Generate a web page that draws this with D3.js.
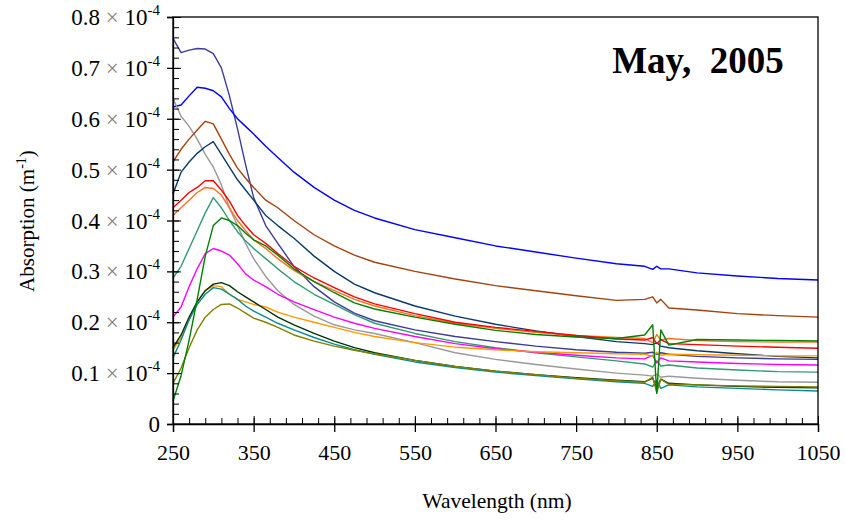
<!DOCTYPE html>
<html>
<head>
<meta charset="utf-8">
<script src="https://cdn.jsdelivr.net/npm/d3@7"></script>
<style>
  html, body { margin: 0; padding: 0; background: #fff; }
  svg { display: block; }
  text { font-family: "Liberation Serif", "Times New Roman", serif; fill: #000; }
</style>
</head>
<body>
<svg id="chart" width="846" height="522"></svg>
<script>
// Wavelength grid (nm) shared by all spectra
const wavelengths = [250,260,270,280,290,300,310,320,330,340,350,365,380,400,425,450,475,500,550,600,650,700,750,800,835,845,850,855,865,900,950,1000,1050];

// Absorption spectra, values in units of 1e-4 m^-1
const slateSeries  = [0.758,0.73,0.735,0.738,0.737,0.728,0.70,0.645,0.58,0.51,0.445,0.39,0.355,0.31,0.27,0.24,0.218,0.203,0.185,0.172,0.162,0.153,0.146,0.141,0.139,0.141,0.137,0.14,0.137,0.133,0.13,0.128,0.127];
const blueSeries   = [0.623,0.627,0.645,0.662,0.66,0.655,0.643,0.62,0.60,0.585,0.57,0.546,0.524,0.495,0.465,0.44,0.42,0.405,0.382,0.366,0.35,0.338,0.326,0.315,0.31,0.304,0.31,0.305,0.305,0.297,0.291,0.286,0.283];
const graySeries   = [0.64,0.605,0.585,0.56,0.53,0.505,0.47,0.425,0.39,0.355,0.325,0.29,0.262,0.235,0.212,0.195,0.185,0.178,0.16,0.14,0.127,0.117,0.108,0.10,0.096,0.094,0.098,0.092,0.094,0.09,0.086,0.083,0.082];
const brownSeries  = [0.515,0.54,0.56,0.578,0.595,0.59,0.56,0.53,0.503,0.483,0.465,0.44,0.425,0.40,0.372,0.35,0.332,0.318,0.30,0.285,0.272,0.262,0.252,0.243,0.245,0.25,0.238,0.245,0.228,0.224,0.217,0.213,0.21];
const navySeries   = [0.452,0.495,0.515,0.532,0.545,0.555,0.53,0.505,0.48,0.46,0.44,0.41,0.39,0.365,0.33,0.30,0.275,0.258,0.232,0.212,0.196,0.183,0.172,0.162,0.158,0.156,0.16,0.153,0.15,0.144,0.138,0.133,0.13];
const redSeries    = [0.425,0.44,0.455,0.465,0.478,0.478,0.46,0.438,0.41,0.39,0.372,0.355,0.335,0.31,0.287,0.268,0.25,0.236,0.217,0.20,0.19,0.182,0.174,0.167,0.165,0.17,0.158,0.166,0.158,0.156,0.153,0.151,0.149];
const darkOrangeSeries = [0.41,0.425,0.44,0.455,0.465,0.463,0.45,0.425,0.40,0.38,0.362,0.345,0.325,0.302,0.28,0.262,0.245,0.232,0.213,0.198,0.188,0.18,0.174,0.17,0.168,0.16,0.176,0.165,0.168,0.164,0.162,0.161,0.161];
const seaGreenSeries = [0.287,0.31,0.345,0.38,0.415,0.445,0.425,0.40,0.378,0.36,0.345,0.325,0.305,0.28,0.255,0.235,0.215,0.198,0.178,0.162,0.15,0.14,0.132,0.124,0.118,0.112,0.124,0.114,0.116,0.11,0.106,0.103,0.102];
const greenSeries  = [0.045,0.095,0.165,0.245,0.33,0.39,0.405,0.40,0.39,0.375,0.362,0.35,0.332,0.305,0.28,0.258,0.238,0.226,0.21,0.196,0.184,0.176,0.171,0.168,0.175,0.195,0.06,0.185,0.155,0.166,0.165,0.164,0.163];
const magentaSeries = [0.21,0.23,0.27,0.305,0.335,0.345,0.34,0.332,0.315,0.295,0.283,0.27,0.255,0.24,0.225,0.21,0.198,0.188,0.172,0.158,0.148,0.141,0.135,0.13,0.128,0.135,0.12,0.13,0.124,0.122,0.119,0.117,0.116];
const orangeSeries = [0.145,0.17,0.205,0.24,0.262,0.272,0.27,0.255,0.245,0.24,0.235,0.23,0.22,0.21,0.20,0.19,0.18,0.172,0.16,0.151,0.146,0.142,0.14,0.138,0.137,0.133,0.141,0.135,0.137,0.136,0.135,0.134,0.134];
const darkGreenSeries = [0.15,0.175,0.21,0.24,0.262,0.275,0.278,0.272,0.26,0.25,0.24,0.225,0.21,0.195,0.178,0.163,0.15,0.14,0.125,0.113,0.104,0.097,0.091,0.086,0.083,0.09,0.07,0.088,0.08,0.077,0.074,0.072,0.071];
const tealSeries   = [0.13,0.165,0.205,0.235,0.255,0.268,0.265,0.255,0.245,0.232,0.222,0.21,0.198,0.185,0.17,0.157,0.146,0.137,0.122,0.111,0.102,0.095,0.089,0.083,0.08,0.074,0.086,0.07,0.077,0.073,0.07,0.067,0.065];
const oliveSeries  = [0.08,0.11,0.15,0.185,0.21,0.225,0.235,0.236,0.228,0.218,0.208,0.20,0.19,0.175,0.163,0.153,0.145,0.138,0.125,0.113,0.104,0.097,0.09,0.085,0.082,0.092,0.062,0.088,0.078,0.077,0.075,0.074,0.073];

const seriesList = [
  { values: slateSeries,      color: "#3c3c9a" },
  { values: blueSeries,       color: "#0000ff" },
  { values: graySeries,       color: "#999999" },
  { values: brownSeries,      color: "#a3420f" },
  { values: navySeries,       color: "#0a3a66" },
  { values: seaGreenSeries,   color: "#339970" },
  { values: magentaSeries,    color: "#ff00ff" },
  { values: orangeSeries,     color: "#ff9900" },
  { values: darkGreenSeries,  color: "#003300" },
  { values: tealSeries,       color: "#0a8a8f" },
  { values: oliveSeries,      color: "#808000" },
  { values: darkOrangeSeries, color: "#ff7020" },
  { values: redSeries,        color: "#ff0000" },
  { values: greenSeries,      color: "#008000" }
];

// Axis ticks
const xTicks = [250,350,450,550,650,750,850,950,1050];
const yTicks = [0,0.1,0.2,0.3,0.4,0.5,0.6,0.7,0.8];

const plot = { left: 173, right: 818, top: 17, bottom: 424 };
const svg = d3.select("#chart");

const x = d3.scaleLinear().domain([250, 1050]).range([plot.left, plot.right]);
const y = d3.scaleLinear().domain([0, 0.8]).range([plot.bottom, plot.top]);

// Spectra
const line = d3.line().x((d, i) => x(wavelengths[i])).y(d => y(d));
svg.append("g")
  .selectAll("path")
  .data(seriesList)
  .join("path")
  .attr("d", s => line(s.values))
  .attr("fill", "none")
  .attr("stroke", s => s.color)
  .attr("stroke-width", 1.4)
  .attr("stroke-linejoin", "round");

// Frame
svg.append("rect")
  .attr("x", plot.left).attr("y", plot.top)
  .attr("width", plot.right - plot.left).attr("height", plot.bottom - plot.top)
  .attr("fill", "none").attr("stroke", "#000").attr("stroke-width", 1.3);

// X axis: minor ticks inward, major ticks crossing the axis
const xMinor = d3.range(250, 1051, 20);
svg.append("g").attr("transform", `translate(0,${plot.bottom})`)
  .call(d3.axisBottom(x).tickValues(xMinor).tickSize(-6).tickFormat(""))
  .call(g => g.select(".domain").remove());
svg.append("g").attr("transform", `translate(0,${plot.bottom})`)
  .call(d3.axisBottom(x).tickValues(xTicks).tickSize(-8).tickFormat(""))
  .call(g => g.select(".domain").remove());
const xAxis = svg.append("g").attr("transform", `translate(0,${plot.bottom})`)
  .call(d3.axisBottom(x).tickValues(xTicks).tickSize(8).tickPadding(12).tickFormat(d3.format("d")))
  .call(g => g.select(".domain").attr("stroke-width", 1.3));
xAxis.selectAll("line").attr("stroke-width", 1.3);
xAxis.selectAll("text")
  .attr("font-family", "Liberation Serif, serif")
  .attr("font-size", 22)
  .attr("fill", "#000");

// Y axis
const yMinor = d3.range(0, 0.801, 0.02);
svg.append("g").attr("transform", `translate(${plot.left},0)`)
  .call(d3.axisLeft(y).tickValues(yMinor).tickSize(-6).tickFormat(""))
  .call(g => g.select(".domain").remove());
svg.append("g").attr("transform", `translate(${plot.left},0)`)
  .call(d3.axisLeft(y).tickValues(yTicks).tickSize(-8).tickFormat(""))
  .call(g => g.select(".domain").remove());
const yAxis = svg.append("g").attr("transform", `translate(${plot.left},0)`)
  .call(d3.axisLeft(y).tickValues(yTicks).tickSize(6).tickFormat(""))
  .call(g => g.select(".domain").attr("stroke-width", 1.3));
yAxis.selectAll("line").attr("stroke-width", 1.3);

// Y tick labels in the form "0.N × 10^-4"
const yLabels = svg.append("g");
yTicks.forEach(v => {
  const t = yLabels.append("text")
    .attr("x", 160)
    .attr("y", y(v))
    .attr("dy", "0.35em")
    .attr("text-anchor", "end")
    .attr("font-size", 23);
  if (v === 0) {
    t.text("0");
  } else {
    t.append("tspan").text(d3.format(".1f")(v) + " ");
    t.append("tspan").attr("fill", "#808080").text("×");
    t.append("tspan").text(" 10");
    t.append("tspan").attr("font-size", 15).attr("dy", -10).text("-4");
  }
});

// Axis titles
svg.append("text")
  .attr("x", 497).attr("y", 500)
  .attr("dy", "0.35em")
  .attr("text-anchor", "middle")
  .attr("font-size", 21.5)
  .text("Wavelength (nm)");

const yTitle = svg.append("text")
  .attr("transform", "translate(27,221) rotate(-90)")
  .attr("dy", "0.35em")
  .attr("text-anchor", "middle")
  .attr("font-size", 21);
yTitle.append("tspan").text("Absorption (m");
yTitle.append("tspan").attr("font-size", 14).attr("dy", -8).text("-1");
yTitle.append("tspan").attr("dy", 8).text(")");

// Panel title
svg.append("text")
  .attr("x", 698).attr("y", 60)
  .attr("dy", "0.35em")
  .attr("text-anchor", "middle")
  .attr("font-size", 37)
  .attr("font-weight", "bold")
  .style("white-space", "pre")
  .text("May,  2005");
</script>
</body>
</html>
